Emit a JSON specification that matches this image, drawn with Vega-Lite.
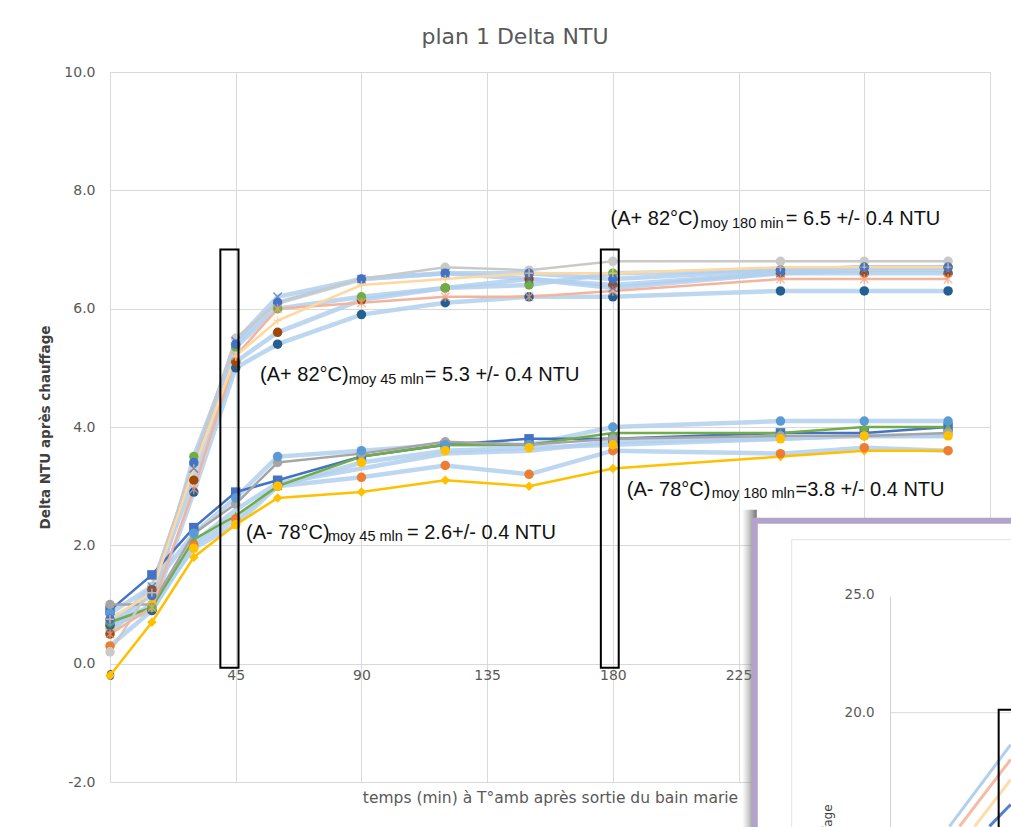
{
  "$schema": "https://vega.github.io/schema/vega-lite/v6.json",
  "width": 880,
  "height": 710,
  "autosize": {"type": "none"},
  "padding": {"left": 110, "top": 72, "right": 21, "bottom": 45},
  "background": "white",
  "config": {"view": {"stroke": null}, "font": "DejaVu Sans"},
  "title": {"text": "plan 1 Delta NTU", "font": "DejaVu Sans", "fontSize": 22, "fontWeight": "normal", "color": "#595959", "anchor": "middle", "dx": -35, "dy": 19, "baseline": "alphabetic", "offset": 18},
  "datasets": {
    "main": [
      {"s":"A- 1","t":0,"v":0.9},{"s":"A- 1","t":15,"v":1.5},{"s":"A- 1","t":30,"v":2.3},{"s":"A- 1","t":45,"v":2.9},{"s":"A- 1","t":60,"v":3.1},{"s":"A- 1","t":90,"v":3.5},{"s":"A- 1","t":120,"v":3.7},{"s":"A- 1","t":150,"v":3.8},{"s":"A- 1","t":180,"v":3.8},{"s":"A- 1","t":240,"v":3.9},{"s":"A- 1","t":270,"v":3.9},{"s":"A- 1","t":300,"v":4.0},
      {"s":"A- 2","t":0,"v":0.7},{"s":"A- 2","t":15,"v":0.95},{"s":"A- 2","t":30,"v":2.1},{"s":"A- 2","t":45,"v":2.5},{"s":"A- 2","t":60,"v":3.0},{"s":"A- 2","t":90,"v":3.5},{"s":"A- 2","t":120,"v":3.7},{"s":"A- 2","t":150,"v":3.7},{"s":"A- 2","t":180,"v":3.9},{"s":"A- 2","t":240,"v":3.9},{"s":"A- 2","t":270,"v":4.0},{"s":"A- 2","t":300,"v":4.0},
      {"s":"A- 3","t":0,"v":-0.2},{"s":"A- 3","t":15,"v":0.7},{"s":"A- 3","t":30,"v":1.8},{"s":"A- 3","t":45,"v":2.35},{"s":"A- 3","t":60,"v":2.8},{"s":"A- 3","t":90,"v":2.9},{"s":"A- 3","t":120,"v":3.1},{"s":"A- 3","t":150,"v":3.0},{"s":"A- 3","t":180,"v":3.3},{"s":"A- 3","t":240,"v":3.5},{"s":"A- 3","t":270,"v":3.6},{"s":"A- 3","t":300,"v":3.6},
      {"s":"A- 4","t":0,"v":1.0},{"s":"A- 4","t":15,"v":1.0},{"s":"A- 4","t":30,"v":2.2},{"s":"A- 4","t":45,"v":2.7},{"s":"A- 4","t":60,"v":3.4},{"s":"A- 4","t":90,"v":3.55},{"s":"A- 4","t":120,"v":3.75},{"s":"A- 4","t":150,"v":3.7},{"s":"A- 4","t":180,"v":3.8},{"s":"A- 4","t":240,"v":3.85},{"s":"A- 4","t":270,"v":3.85},{"s":"A- 4","t":300,"v":3.9},
      {"s":"A- 5","t":0,"v":0.85},{"s":"A- 5","t":15,"v":1.3},{"s":"A- 5","t":30,"v":2.2},{"s":"A- 5","t":45,"v":2.8},{"s":"A- 5","t":60,"v":3.5},{"s":"A- 5","t":90,"v":3.6},{"s":"A- 5","t":120,"v":3.7},{"s":"A- 5","t":150,"v":3.7},{"s":"A- 5","t":180,"v":4.0},{"s":"A- 5","t":240,"v":4.1},{"s":"A- 5","t":270,"v":4.1},{"s":"A- 5","t":300,"v":4.1},
      {"s":"A- 6","t":0,"v":0.3},{"s":"A- 6","t":15,"v":0.9},{"s":"A- 6","t":30,"v":2.0},{"s":"A- 6","t":45,"v":2.45},{"s":"A- 6","t":60,"v":3.0},{"s":"A- 6","t":90,"v":3.15},{"s":"A- 6","t":120,"v":3.35},{"s":"A- 6","t":150,"v":3.2},{"s":"A- 6","t":180,"v":3.6},{"s":"A- 6","t":240,"v":3.55},{"s":"A- 6","t":270,"v":3.65},{"s":"A- 6","t":300,"v":3.6},
      {"s":"A- 7","t":0,"v":0.6},{"s":"A- 7","t":15,"v":1.0},{"s":"A- 7","t":30,"v":1.95},{"s":"A- 7","t":45,"v":2.35},{"s":"A- 7","t":60,"v":3.0},{"s":"A- 7","t":90,"v":3.4},{"s":"A- 7","t":120,"v":3.6},{"s":"A- 7","t":150,"v":3.65},{"s":"A- 7","t":180,"v":3.7},{"s":"A- 7","t":240,"v":3.8},{"s":"A- 7","t":270,"v":3.85},{"s":"A- 7","t":300,"v":3.85},
      {"s":"A- 8","t":0,"v":0.7},{"s":"A- 8","t":15,"v":0.9},{"s":"A- 8","t":30,"v":2.05},{"s":"A- 8","t":45,"v":2.6},{"s":"A- 8","t":60,"v":3.05},{"s":"A- 8","t":90,"v":3.3},{"s":"A- 8","t":120,"v":3.55},{"s":"A- 8","t":150,"v":3.6},{"s":"A- 8","t":180,"v":3.75},{"s":"A- 8","t":240,"v":3.8},{"s":"A- 8","t":270,"v":3.85},{"s":"A- 8","t":300,"v":3.85},
      {"s":"A+ 1","t":0,"v":0.2},{"s":"A+ 1","t":15,"v":1.3},{"s":"A+ 1","t":30,"v":3.4},{"s":"A+ 1","t":45,"v":5.5},{"s":"A+ 1","t":60,"v":6.1},{"s":"A+ 1","t":90,"v":6.5},{"s":"A+ 1","t":120,"v":6.7},{"s":"A+ 1","t":150,"v":6.65},{"s":"A+ 1","t":180,"v":6.8},{"s":"A+ 1","t":240,"v":6.8},{"s":"A+ 1","t":270,"v":6.8},{"s":"A+ 1","t":300,"v":6.8},
      {"s":"A+ 2","t":0,"v":0.65},{"s":"A+ 2","t":15,"v":0.9},{"s":"A+ 2","t":30,"v":2.9},{"s":"A+ 2","t":45,"v":5.0},{"s":"A+ 2","t":60,"v":5.4},{"s":"A+ 2","t":90,"v":5.9},{"s":"A+ 2","t":120,"v":6.1},{"s":"A+ 2","t":150,"v":6.2},{"s":"A+ 2","t":180,"v":6.2},{"s":"A+ 2","t":240,"v":6.3},{"s":"A+ 2","t":270,"v":6.3},{"s":"A+ 2","t":300,"v":6.3},
      {"s":"A+ 3","t":0,"v":0.5},{"s":"A+ 3","t":15,"v":1.25},{"s":"A+ 3","t":30,"v":3.1},{"s":"A+ 3","t":45,"v":5.1},{"s":"A+ 3","t":60,"v":5.6},{"s":"A+ 3","t":90,"v":6.15},{"s":"A+ 3","t":120,"v":6.35},{"s":"A+ 3","t":150,"v":6.5},{"s":"A+ 3","t":180,"v":6.4},{"s":"A+ 3","t":240,"v":6.6},{"s":"A+ 3","t":270,"v":6.6},{"s":"A+ 3","t":300,"v":6.6},
      {"s":"A+ 4","t":0,"v":0.7},{"s":"A+ 4","t":15,"v":0.95},{"s":"A+ 4","t":30,"v":3.5},{"s":"A+ 4","t":45,"v":5.35},{"s":"A+ 4","t":60,"v":6.0},{"s":"A+ 4","t":90,"v":6.2},{"s":"A+ 4","t":120,"v":6.35},{"s":"A+ 4","t":150,"v":6.4},{"s":"A+ 4","t":180,"v":6.6},{"s":"A+ 4","t":240,"v":6.65},{"s":"A+ 4","t":270,"v":6.7},{"s":"A+ 4","t":300,"v":6.7},
      {"s":"A+ 5","t":0,"v":0.75},{"s":"A+ 5","t":15,"v":1.15},{"s":"A+ 5","t":30,"v":3.4},{"s":"A+ 5","t":45,"v":5.4},{"s":"A+ 5","t":60,"v":6.1},{"s":"A+ 5","t":90,"v":6.5},{"s":"A+ 5","t":120,"v":6.6},{"s":"A+ 5","t":150,"v":6.6},{"s":"A+ 5","t":180,"v":6.5},{"s":"A+ 5","t":240,"v":6.65},{"s":"A+ 5","t":270,"v":6.7},{"s":"A+ 5","t":300,"v":6.7},
      {"s":"A+ 6","t":0,"v":0.5},{"s":"A+ 6","t":15,"v":0.95},{"s":"A+ 6","t":30,"v":2.95},{"s":"A+ 6","t":45,"v":5.2},{"s":"A+ 6","t":60,"v":6.0},{"s":"A+ 6","t":90,"v":6.1},{"s":"A+ 6","t":120,"v":6.2},{"s":"A+ 6","t":150,"v":6.2},{"s":"A+ 6","t":180,"v":6.3},{"s":"A+ 6","t":240,"v":6.5},{"s":"A+ 6","t":270,"v":6.5},{"s":"A+ 6","t":300,"v":6.5},
      {"s":"A+ 7","t":0,"v":0.75},{"s":"A+ 7","t":15,"v":1.2},{"s":"A+ 7","t":30,"v":3.3},{"s":"A+ 7","t":45,"v":5.2},{"s":"A+ 7","t":60,"v":5.8},{"s":"A+ 7","t":90,"v":6.4},{"s":"A+ 7","t":120,"v":6.5},{"s":"A+ 7","t":150,"v":6.6},{"s":"A+ 7","t":180,"v":6.6},{"s":"A+ 7","t":240,"v":6.7},{"s":"A+ 7","t":270,"v":6.7},{"s":"A+ 7","t":300,"v":6.7},
      {"s":"A+ 8","t":0,"v":0.6},{"s":"A+ 8","t":15,"v":1.3},{"s":"A+ 8","t":30,"v":3.3},{"s":"A+ 8","t":45,"v":5.45},{"s":"A+ 8","t":60,"v":6.2},{"s":"A+ 8","t":90,"v":6.5},{"s":"A+ 8","t":120,"v":6.6},{"s":"A+ 8","t":150,"v":6.5},{"s":"A+ 8","t":180,"v":6.35},{"s":"A+ 8","t":240,"v":6.6},{"s":"A+ 8","t":270,"v":6.65},{"s":"A+ 8","t":300,"v":6.65}
    ],
    "notes": [
      {"k":"m","t":179.2,"v":7.416,"label":"(A+ 82°C)"},
      {"k":"s","t":211.4,"v":7.36,"label":"moy 180 min"},
      {"k":"m","t":241.9,"v":7.416,"label":"= 6.5 +/- 0.4 NTU"},
      {"k":"m","t":53.7,"v":4.77,"label":"(A+ 82°C)"},
      {"k":"s","t":85.5,"v":4.72,"label":"moy 45 mln"},
      {"k":"m","t":112.7,"v":4.77,"label":"= 5.3 +/- 0.4 NTU"},
      {"k":"m","t":185.0,"v":2.838,"label":"(A- 78°C)"},
      {"k":"s","t":215.4,"v":2.80,"label":"moy 180 mln"},
      {"k":"m","t":245.4,"v":2.838,"label":"=3.8 +/- 0.4 NTU"},
      {"k":"m","t":48.7,"v":2.11,"label":"(A- 78°C)"},
      {"k":"s","t":78.0,"v":2.065,"label":"moy 45 mln"},
      {"k":"m","t":106.3,"v":2.11,"label":"= 2.6+/- 0.4 NTU"}
    ],
    "inset": [
      {"s":"i1","t":300.5,"v":-2.75},{"s":"i1","t":322.4,"v":-1.37},
      {"s":"i2","t":304.1,"v":-2.75},{"s":"i2","t":322.4,"v":-1.62},
      {"s":"i3","t":309.5,"v":-2.75},{"s":"i3","t":322.4,"v":-1.96},
      {"s":"i4","t":314.8,"v":-2.75},{"s":"i4","t":322.4,"v":-2.38}
    ]
  },
  "encoding": {
    "x": {"field": "t", "type": "quantitative", "scale": {"domain": [0, 315], "nice": false, "zero": false},
      "axis": {"values": [0,45,90,135,180,225,270,315], "title": "temps (min) à T°amb après sortie du bain marie", "grid": true, "gridColor": "#D9D9D9", "domain": false, "ticks": false, "labelPadding": -114, "labelBaseline": "top", "labelFlush": false, "labelFont": "DejaVu Sans", "labelFontSize": 14, "labelColor": "#595959", "titleFont": "DejaVu Sans", "titleFontSize": 15.5, "titleFontWeight": "normal", "titleColor": "#595959", "titleX": 440, "titleY": 15, "titleAlign": "center", "titleBaseline": "middle"}},
    "y": {"field": "v", "type": "quantitative", "scale": {"domain": [-2, 10], "nice": false, "zero": false},
      "axis": {"values": [-2,0,2,4,6,8,10], "labelExpr": "replace(format(datum.value, '.1f'), '\u2212', '-')", "title": "Delta NTU après chauffage", "grid": true, "gridColor": "#D9D9D9", "domain": false, "ticks": false, "labelPadding": 15, "labelFont": "DejaVu Sans", "labelFontSize": 14, "labelColor": "#595959", "titleFont": "DejaVu Sans", "titleFontSize": 13.5, "titleFontWeight": "bold", "titleColor": "#404040", "titleX": -65, "titleY": 355, "titleAngle": 270, "titleAlign": "center", "titleBaseline": "middle"}}
  },
  "layer": [
    {
      "data": {"name": "main"},
      "transform": [{"filter": {"field": "s", "oneOf": ["A- 5","A- 6","A- 7","A- 8","A+ 2","A+ 3","A+ 4","A+ 5","A+ 8"]}}],
      "mark": {"type": "line", "color": "#B2D0EE", "strokeWidth": 4.5, "opacity": 0.85},
      "encoding": {
        "detail": {"field": "s", "type": "nominal"}
      }
    },
    {
      "data": {"name": "main"},
      "transform": [{"filter": {"field": "s", "oneOf": ["A+ 7","A+ 6","A+ 1","A- 4","A- 3","A- 2","A- 1"]}}],
      "mark": {"type": "line", "strokeWidth": 2.5},
      "encoding": {
        "color": {"field": "s", "type": "nominal", "legend": null,
          "scale": {"domain": ["A+ 7","A+ 6","A+ 1","A- 4","A- 3","A- 2","A- 1"], "range": ["#FFD8A0","#F4B49A","#C9C9C9","#A5A5A5","#FFC000","#70AD47","#4472C4"]}}
      }
    },
    {
      "data": {"name": "main"},
      "transform": [{"filter": {"field": "s", "oneOf": ["A- 1","A- 2","A- 3","A- 4","A- 5","A- 6","A- 7","A+ 1","A+ 2","A+ 3","A+ 4","A+ 5"]}}],
      "mark": {"type": "point", "filled": true, "size": 90, "opacity": 1},
      "encoding": {
        "color": {"field": "s", "type": "nominal", "legend": null,
          "scale": {"domain": ["A- 1","A- 2","A- 3","A- 4","A- 5","A- 6","A- 7","A+ 1","A+ 2","A+ 3","A+ 4","A+ 5"], "range": ["#4472C4","#70AD47","#FFC000","#A5A5A5","#5B9BD5","#ED7D31","#FFC000","#C9C9C9","#255E91","#9E480E","#70AD47","#4472C4"]}},
        "shape": {"field": "s", "type": "nominal", "legend": null,
          "scale": {"domain": ["A- 1","A- 2","A- 3","A- 4","A- 5","A- 6","A- 7","A+ 1","A+ 2","A+ 3","A+ 4","A+ 5"], "range": ["square","triangle-up","diamond","circle","circle","circle","circle","circle","circle","circle","circle","circle"]}}
      }
    },
    {
      "data": {"name": "main"},
      "transform": [{"filter": {"field": "s", "oneOf": ["A+ 6","A+ 7","A+ 8"]}}],
      "mark": {"type": "point", "filled": false, "size": 70, "strokeWidth": 1.5},
      "encoding": {
        "color": {"field": "s", "type": "nominal", "legend": null,
          "scale": {"domain": ["A+ 6","A+ 7","A+ 8"], "range": ["#F4A582","#FFD08A","#4472C4"]}},
        "shape": {"field": "s", "type": "nominal", "legend": null,
          "scale": {"domain": ["A+ 6","A+ 7","A+ 8"], "range": ["M-1,-1L1,1M1,-1L-1,1M0,-1.2L0,1.2", "M-1,0L1,0M0,-1L0,1", "M-1,-1L1,1M1,-1L-1,1"]}}
      }
    },
    {
      "data": {"values": [{"t": 39.5, "t2": 46, "v": -0.07, "v2": 7.0}, {"t": 175.7, "t2": 182.1, "v": -0.07, "v2": 7.0}]},
      "mark": {"type": "rect", "filled": false, "color": "#000000", "strokeWidth": 2},
      "encoding": {"x2": {"field": "t2"}, "y2": {"field": "v2"}}
    },
    {
      "data": {"name": "notes"},
      "transform": [{"filter": {"field": "k", "equal": "m"}}],
      "mark": {"type": "text", "align": "left", "baseline": "alphabetic", "font": "Liberation Sans", "fontSize": 20, "color": "#111111"},
      "encoding": {"text": {"field": "label"}}
    },
    {
      "data": {"name": "notes"},
      "transform": [{"filter": {"field": "k", "equal": "s"}}],
      "mark": {"type": "text", "align": "left", "baseline": "alphabetic", "font": "Liberation Sans", "fontSize": 14.5, "color": "#111111"},
      "encoding": {"text": {"field": "label"}}
    },
    {
      "data": {"values": [{"t": 226.3, "t2": 231.5, "v": 2.6, "v2": -3.6}]},
      "mark": {"type": "rect", "fill": {"gradient": "linear", "x1": 0, "y1": 0, "x2": 1, "y2": 0, "stops": [{"offset": 0, "color": "rgba(140,140,140,0)"}, {"offset": 1, "color": "rgba(90,90,90,0.85)"}]}},
      "encoding": {"x2": {"field": "t2"}, "y2": {"field": "v2"}}
    },
    {
      "data": {"values": [{"t": 230.8, "t2": 345, "v": 2.416, "v2": -3.6}]},
      "mark": {"type": "rect", "fill": "#FFFFFF", "stroke": "#B3A3CB", "strokeWidth": 6},
      "encoding": {"x2": {"field": "t2"}, "y2": {"field": "v2"}}
    },
    {
      "data": {"values": [{"t": 244.0, "t2": 345, "v": 2.095, "v2": -3.6}]},
      "mark": {"type": "rect", "filled": false, "color": "#E3E3E3", "strokeWidth": 1},
      "encoding": {"x2": {"field": "t2"}, "y2": {"field": "v2"}}
    },
    {
      "data": {"values": [{"t": 279.4, "t2": 345, "v": -0.828}]},
      "mark": {"type": "rule", "color": "#D9D9D9", "strokeWidth": 1},
      "encoding": {"x2": {"field": "t2"}}
    },
    {
      "data": {"values": [{"t": 279.4, "v": 1.13, "v2": -3.6}]},
      "mark": {"type": "rule", "color": "#D0D0D0", "strokeWidth": 1},
      "encoding": {"y2": {"field": "v2"}}
    },
    {
      "data": {"values": [{"t": 273.7, "v": 1.166, "label": "25.0"}, {"t": 273.7, "v": -0.828, "label": "20.0"}]},
      "mark": {"type": "text", "align": "right", "baseline": "middle", "font": "DejaVu Sans", "fontSize": 13.5, "color": "#595959"},
      "encoding": {"text": {"field": "label"}}
    },
    {
      "data": {"values": [{"t": 256.9, "v": -2.38, "label": "Delta NTU après chauffage"}]},
      "mark": {"type": "text", "align": "right", "baseline": "middle", "angle": 270, "font": "DejaVu Sans", "fontSize": 12, "color": "#404040"},
      "encoding": {"text": {"field": "label"}}
    },
    {
      "data": {"name": "inset"},
      "mark": {"type": "line", "strokeWidth": 3, "opacity": 0.9},
      "encoding": {
        "color": {"field": "s", "type": "nominal", "legend": null,
          "scale": {"domain": ["i1","i2","i3","i4"], "range": ["#A9CBEC","#F4B49A","#FFD8A0","#4472C4"]}}
      }
    },
    {
      "data": {"values": [{"t": 318.1, "t2": 345, "v": -0.777, "v2": -3.6}]},
      "mark": {"type": "rect", "filled": false, "color": "#000000", "strokeWidth": 2},
      "encoding": {"x2": {"field": "t2"}, "y2": {"field": "v2"}}
    }
  ],
  "resolve": {"scale": {"color": "independent", "shape": "independent"}}
}
